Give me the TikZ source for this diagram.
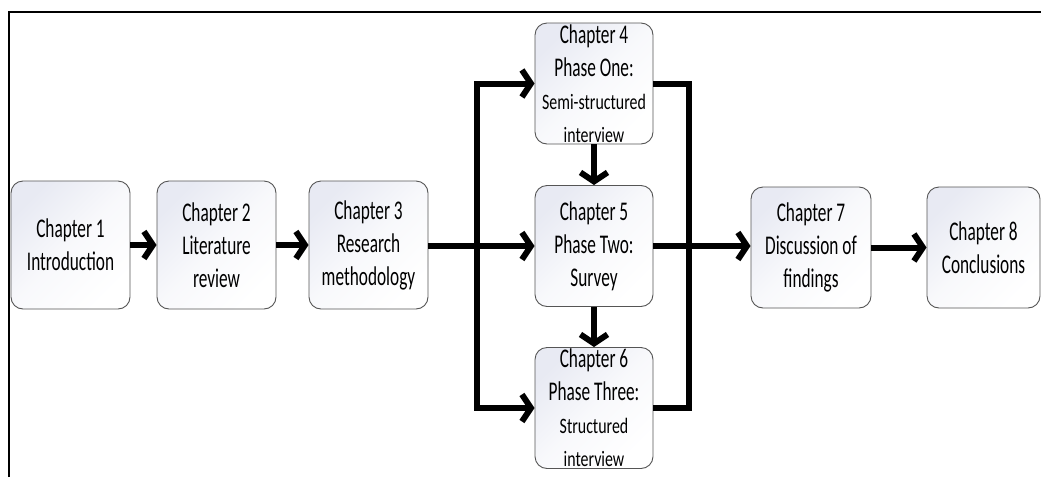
\documentclass[tikz,border=0pt]{standalone}
\usepackage{graphicx}
\usepackage{fontspec}
\setmainfont{Carlito}[FakeStretch=0.64]
\usetikzlibrary{arrows.meta}

\definecolor{boxtint}{HTML}{E8EAF3}
\definecolor{boxedge}{HTML}{555555}

\newcommand{\chapfont}{\fontsize{27}{33}\selectfont}
% smaller lines: shorter letters, set a little wider
\newcommand{\smalltxt}[1]{\scalebox{1.13}[1]{\fontsize{22}{29}\selectfont #1}}

\tikzset{
  x=1pt, y=-1pt,
  chap/.style={draw=boxedge, line width=0.9pt, rounded corners=12pt,
    inner sep=0pt, align=center, font=\chapfont,
    top color=boxtint, bottom color=white, middle color=white!70!boxtint,
    shading angle=45,
    minimum width=119pt, minimum height=128pt},
  phase/.style={chap, minimum width=118pt, minimum height=121pt},
  flow/.style={line width=6pt, black},
  arr/.style={flow, -{Straight Barb[length=9pt, width=27pt, line join=miter]}},
}

\begin{document}
\begin{tikzpicture}
  \useasboundingbox (0,0) rectangle (1041,477);

  % frame lines along the top and left edge
  \draw[line width=2.6pt] (9,477) -- (9,12) -- (1041,12);

  % chapter boxes
  \node[chap] (c1) at (70.5,245) {Chapter 1\\Introduction};
  \node[chap] (c2) at (216.5,245) {Chapter 2\\Literature\\review};
  \node[chap] (c3) at (368.5,245) {Chapter 3\\Research\\methodology};
  \node[phase] (c4) at (594,83.5) {Chapter 4\\Phase One:\\\smalltxt{Semi-structured}\\\smalltxt{interview}};
  \node[phase] (c5) at (594,246) {Chapter 5\\Phase Two:\\Survey};
  \node[phase] (c6) at (594,408) {Chapter 6\\Phase Three:\\\smalltxt{Structured}\\\smalltxt{interview}};
  \node[phase, minimum width=120pt] (c7) at (811,247.5) {Chapter 7\\Discussion of\\findings};
  \node[phase, minimum width=113pt] (c8) at (983.5,247.5) {Chapter 8\\Conclusions};

  % branching and merging points
  \coordinate (split) at (477,246);
  \coordinate (merge) at (689,246);

  % connectors
  \draw[arr] (c1) -- (c2);
  \draw[arr] (c2) -- (c3);
  \draw[arr] (c3.east |- split) -- (c5.west);
  \draw[arr] (split) |- (c4.west);
  \draw[arr] (split) |- (c6.west);
  \draw[arr] (c4) -- (c5);
  \draw[arr] (c5) -- (c6);
  \draw[flow] (c4.east) -| (merge);
  \draw[flow] (c6.east) -| (merge);
  \draw[arr] (c5.east) -- (c7.west |- c5.east);
  \draw[arr] (c7) -- (c8);
\end{tikzpicture}
\end{document}
